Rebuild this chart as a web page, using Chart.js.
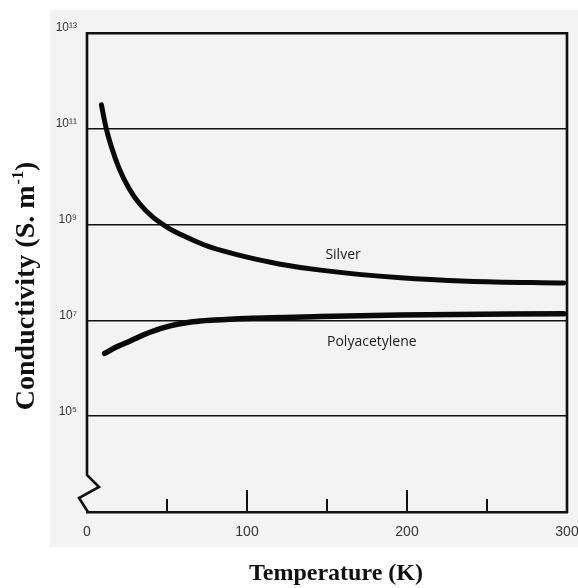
<!DOCTYPE html>
<html><head><meta charset="utf-8">
<script src="https://cdn.jsdelivr.net/npm/chart.js@4/dist/chart.umd.min.js"></script>
<style>html,body{margin:0;padding:0;background:#fff;}canvas{display:block}</style>
</head><body>
<canvas id="c" width="578" height="588"></canvas>
<script>
// Data
const silverT = [9, 12, 15, 20, 26, 33, 41, 50, 60, 73, 85, 100, 120, 146, 196, 238, 298];
const silverSigma = [3.16e11, 1.02e11, 4.47e10, 1.51e10, 5.89e9, 2.69e9, 1.45e9, 8.9e8, 5.89e8, 3.8e8, 2.82e8, 2.09e8, 1.51e8, 1.12e8, 7.76e7, 6.6e7, 6.03e7];
const polyT = [11, 18, 27, 37, 48, 66, 80, 100, 146, 196, 298];
const polySigma = [2.04e6, 2.75e6, 3.72e6, 5.25e6, 7.08e6, 9.33e6, 1.02e7, 1.10e7, 1.20e7, 1.29e7, 1.38e7];
const seriesNames = ['Silver', 'Polyacetylene'];
const xTickValues = [0, 100, 200, 300];
const xMajorMarks = [100, 200];
const xMinorMarks = [50, 150, 250];
const yTickValues = [1e5, 1e7, 1e9, 1e11, 1e13];
const yTickLabels = ['10⁵', '10⁷', '10⁹', '10¹¹', '10¹³'];
const xTitle = 'Temperature (K)';
const yTitleMain = 'Conductivity (S. m';
const yTitleSup = '-1';
const yTitleEnd = ')';

const INK = '#111';

const decor = {
  id: 'decor',
  beforeDraw(chart) {
    const {ctx, chartArea: a, width, height} = chart;
    ctx.save();
    ctx.fillStyle = '#fff';
    ctx.fillRect(0, 0, width, height);
    ctx.fillStyle = '#f3f3f3';
    ctx.fillRect(a.left - 37, a.top - 23, width - (a.left - 37), a.bottom + 35 - (a.top - 23));
    ctx.restore();
  },
  afterDraw(chart) {
    const {ctx, chartArea: a, scales: {x, y}} = chart;
    ctx.save();
    ctx.strokeStyle = INK;
    ctx.lineWidth = 2.6;
    ctx.lineJoin = 'miter';
    // right border
    ctx.beginPath();
    ctx.moveTo(a.right, a.top - 1);
    ctx.lineTo(a.right, a.bottom + 1);
    ctx.stroke();
    // left axis with break symbol
    ctx.beginPath();
    ctx.moveTo(a.left, a.top - 1);
    ctx.lineTo(a.left, a.bottom - 37);
    ctx.lineTo(a.left + 12, a.bottom - 25);
    ctx.lineTo(a.left - 8, a.bottom - 14);
    ctx.lineTo(a.left + 1, a.bottom);
    ctx.stroke();
    // inward x tick marks
    ctx.lineWidth = 2;
    xMajorMarks.forEach(v => {
      const px = x.getPixelForValue(v);
      ctx.beginPath(); ctx.moveTo(px, a.bottom); ctx.lineTo(px, a.bottom - 22); ctx.stroke();
    });
    xMinorMarks.forEach(v => {
      const px = x.getPixelForValue(v);
      ctx.beginPath(); ctx.moveTo(px, a.bottom); ctx.lineTo(px, a.bottom - 13); ctx.stroke();
    });
    // series labels
    ctx.fillStyle = '#1a1a1a';
    ctx.font = '14px "Open Sans"';
    ctx.textBaseline = 'middle';
    ctx.textAlign = 'left';
    ctx.fillText(seriesNames[0], x.getPixelForValue(149), y.getPixelForValue(Math.pow(10, 8.37)));
    ctx.fillText(seriesNames[1], x.getPixelForValue(150), y.getPixelForValue(Math.pow(10, 6.55)));
    // x title
    ctx.fillStyle = INK;
    ctx.font = 'bold 24px "Liberation Serif"';
    ctx.textAlign = 'center';
    ctx.textBaseline = 'alphabetic';
    ctx.fillText(xTitle, (a.left + a.right) / 2 + 9, a.bottom + 68);
    // y title (rotated, with superscript)
    ctx.translate(34, (a.top + a.bottom) / 2 + 14);
    ctx.rotate(-Math.PI / 2);
    ctx.textAlign = 'left';
    ctx.font = 'bold 28px "Liberation Serif"';
    const w1 = ctx.measureText(yTitleMain).width;
    const w3 = ctx.measureText(yTitleEnd).width;
    ctx.font = 'bold 16px "Liberation Serif"';
    const w2 = ctx.measureText(yTitleSup).width;
    const start = -(w1 + w2 + w3) / 2;
    ctx.font = 'bold 28px "Liberation Serif"';
    ctx.fillText(yTitleMain, start, 0);
    ctx.fillText(yTitleEnd, start + w1 + w2 + 1, 0);
    ctx.font = 'bold 16px "Liberation Serif"';
    ctx.fillText(yTitleSup, start + w1 + 1, -11);
    ctx.restore();
  }
};

new Chart(document.getElementById('c'), {
  type: 'line',
  data: {
    datasets: [
      {
        label: seriesNames[0],
        data: silverT.map((t, i) => ({x: t, y: silverSigma[i]})),
        borderColor: '#0a0a0a', borderWidth: 5, pointRadius: 0,
        cubicInterpolationMode: 'monotone', borderCapStyle: 'round', borderJoinStyle: 'round', fill: false
      },
      {
        label: seriesNames[1],
        data: polyT.map((t, i) => ({x: t, y: polySigma[i]})),
        borderColor: '#0a0a0a', borderWidth: 5.5, pointRadius: 0,
        cubicInterpolationMode: 'monotone', borderCapStyle: 'round', borderJoinStyle: 'round', fill: false
      }
    ]
  },
  options: {
    responsive: false,
    animation: false,
    devicePixelRatio: 1,
    layout: {padding: {top: 33, right: 11, left: 0, bottom: 0}},
    plugins: {legend: {display: false}, tooltip: {enabled: false}},
    scales: {
      x: {
        type: 'linear', min: 0, max: 300,
        afterBuildTicks: s => { s.ticks = xTickValues.map(v => ({value: v})); },
        afterFit: s => { s.height = 76; s.paddingLeft = 0; s.paddingRight = 0; },
        grid: {display: false, drawTicks: false},
        border: {display: true, color: INK, width: 2.6},
        ticks: {font: {family: 'Liberation Sans', size: 14}, color: '#333', padding: 12, maxRotation: 0, autoSkip: false}
      },
      y: {
        type: 'logarithmic', min: 1e3, max: 1e13,
        afterBuildTicks: s => { s.ticks = yTickValues.map(v => ({value: v})); },
        afterFit: s => { s.width = 87; s.paddingTop = 0; s.paddingBottom = 0; },
        border: {display: false},
        grid: {
          color: INK,
          lineWidth: c => (c.tick && c.tick.value === 1e13) ? 2.6 : 1.6,
          drawTicks: false
        },
        ticks: {
          callback: (v, i) => yTickLabels[i],
          font: {family: 'Liberation Sans', size: 12}, color: '#333',
          padding: 10, labelOffset: -5, autoSkip: false
        }
      }
    }
  },
  plugins: [decor]
});
</script>
</body></html>
